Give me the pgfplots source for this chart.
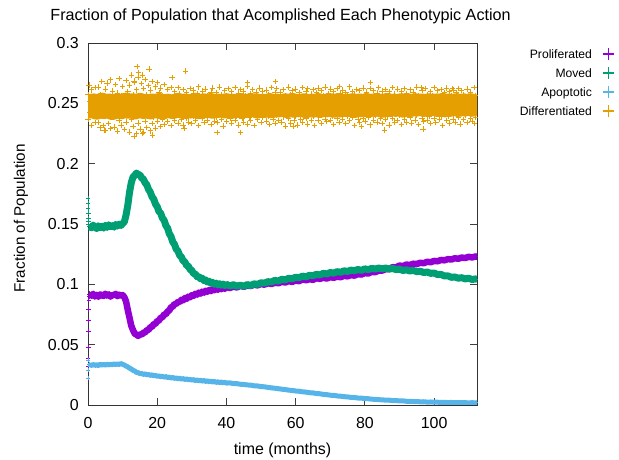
\documentclass[border=0pt]{standalone}
\usepackage{pgfplots}
\usepackage{pgfplotstable}
\usepackage{fontspec}
\setmainfont{Liberation Sans}
\pgfplotsset{compat=1.18}

\definecolor{prolif}{HTML}{9400D3}
\definecolor{moved}{HTML}{009E73}
\definecolor{apopt}{HTML}{56B4E9}
\definecolor{diffr}{HTML}{E69F00}

% key symbol: a large plus built from two rules in the series colour
\newcommand\keyplus[1]{\hspace{10.6bp}{\color{#1}%
  \makebox[0pt][l]{\rule[3.7bp]{11.4bp}{1.4bp}}\hspace{5bp}\rule[-1.3bp]{1.4bp}{11.4bp}\hspace{5bp}}}

% fractions of the population per phenotypic action (t in months)
\pgfplotstableread{
t p g a
0.5 .0918 .1480 .0335
1 .0906 .1468 .0328
1.5 .0921 .1491 .0336
2 .0899 .1474 .0329
2.5 .0913 .1462 .0333
3 .0897 .1485 .0327
3.5 .0916 .1470 .0338
4 .0910 .1481 .0331
4.5 .0903 .1466 .0336
5 .0922 .1489 .0330
5.5 .0907 .1472 .0339
6 .0917 .1493 .0332
6.5 .0898 .1479 .0337
7 .0913 .1486 .0334
7.5 .0909 .1474 .0341
8 .0921 .1496 .0335
8.5 .0902 .1483 .0340
9 .0914 .1499 .0336
9.5 .0906 .1488 .0343
10 .0911 .1503 .0337
10.5 .0893 .1518 .0331
11 .0858 .1575 .0323
11.5 .0787 .1655 .0316
12 .0723 .1763 .0305
12.5 .0657 .1841 .0299
13 .0621 .1889 .0287
13.5 .0591 .1903 .0282
14 .0584 .1922 .0270
14.5 .0572 .1910 .0268
15 .0586 .1907 .0260
15.5 .0583 .1882 .0261
16 .0599 .1872 .0254
16.5 .0602 .1841 .0258
17 .0620 .1825 .0250
17.5 .0623 .1786 .0253
18 .0645 .1764 .0246
18.5 .0648 .1725 .0250
19 .0671 .1706 .0242
19.5 .0673 .1665 .0245
20 .0695 .1644 .0238
20.5 .0700 .1604 .0241
21 .0723 .1589 .0235
21.5 .0727 .1549 .0238
22 .0751 .1531 .0231
22.5 .0752 .1487 .0235
23 .0776 .1466 .0228
23.5 .0783 .1419 .0231
24 .0811 .1396 .0224
24.5 .0815 .1351 .0228
25 .0838 .1331 .0221
25.5 .0837 .1291 .0224
26 .0856 .1276 .0218
26.5 .0853 .1239 .0222
27 .0872 .1226 .0215
27.5 .0868 .1194 .0218
28 .0886 .1186 .0212
28.5 .0881 .1156 .0216
29 .0898 .1151 .0209
29.5 .0893 .1122 .0212
30 .0910 .1116 .0207
30.5 .0905 .1089 .0210
31 .0921 .1086 .0203
31.5 .0915 .1064 .0207
32 .0931 .1066 .0201
32.5 .0923 .1046 .0205
33 .0939 .1051 .0198
33.5 .0931 .1031 .0202
34 .0947 .1036 .0196
34.5 .0939 .1019 .0200
35 .0953 .1026 .0193
35.5 .0944 .1009 .0197
36 .0959 .1016 .0191
36.5 .0951 .1001 .0195
37 .0965 .1010 .0188
37.5 .0955 .0995 .0192
38 .0969 .1005 .0186
38.5 .0960 .0993 .0190
39 .0974 .1002 .0184
39.5 .0963 .0990 .0188
40 .0978 .1000 .0182
41 .0970 .0986 .0183
42 .0981 .0997 .0178
43 .0974 .0985 .0177
44 .0987 .0993 .0172
45 .0980 .0984 .0171
46 .0989 .0998 .0166
47 .0986 .0990 .0165
48 .0998 .1004 .0159
49 .0991 .1000 .0158
50 .1003 .1013 .0152
51 .0997 .1010 .0151
52 .1010 .1022 .0146
53 .1002 .1019 .0142
54 .1014 .1033 .0139
55 .1009 .1027 .0135
56 .1021 .1042 .0131
57 .1015 .1037 .0128
58 .1027 .1050 .0123
59 .1020 .1046 .0121
60 .1032 .1059 .0116
61 .1026 .1055 .0114
62 .1042 .1068 .0109
63 .1034 .1062 .0107
64 .1043 .1075 .0102
65 .1037 .1071 .0100
66 .1051 .1083 .0095
67 .1045 .1078 .0093
68 .1055 .1091 .0088
69 .1048 .1086 .0086
70 .1060 .1098 .0081
71 .1054 .1093 .0080
72 .1064 .1105 .0075
73 .1059 .1100 .0073
74 .1071 .1112 .0069
75 .1066 .1107 .0067
76 .1077 .1118 .0063
77 .1072 .1113 .0062
78 .1085 .1123 .0058
79 .1081 .1116 .0057
80 .1093 .1128 .0053
81 .1090 .1122 .0052
82 .1103 .1132 .0048
83 .1101 .1127 .0047
84 .1113 .1135 .0044
85 .1114 .1129 .0043
86 .1125 .1135 .0040
87 .1127 .1126 .0040
88 .1142 .1132 .0037
89 .1141 .1122 .0037
90 .1156 .1126 .0034
91 .1151 .1115 .0034
92 .1164 .1120 .0031
93 .1160 .1111 .0031
94 .1171 .1115 .0029
95 .1168 .1105 .0029
96 .1179 .1109 .0026
97 .1175 .1098 .0027
98 .1187 .1102 .0024
99 .1183 .1091 .0025
100 .1194 .1094 .0023
101 .1191 .1081 .0023
102 .1202 .1082 .0021
103 .1199 .1069 .0022
104 .1209 .1070 .0020
105 .1206 .1058 .0021
106 .1216 .1061 .0019
107 .1212 .1051 .0020
108 .1222 .1055 .0019
109 .1218 .1045 .0019
110 .1228 .1050 .0018
111 .1223 .1040 .0019
112 .1231 .1045 .0018
112.5 .1229 .1041 .0019
}\actions

% differentiated fraction: three samples per half month
\pgfplotstableread{
t o1 o2 o3
0 .2478 .2573 .2364
0.5 .2481 .2518 .2429
1 .2461 .2612 .2318
1.5 .2495 .2547 .2396
2 .2478 .2631 .2341
2.5 .2452 .2509 .2442
3 .2486 .2636 .2343
3.5 .2469 .2571 .2297
4 .2501 .2682 .2402
4.5 .2457 .2548 .2318
5 .2483 .2619 .2276
5.5 .2466 .2667 .2411
6 .2494 .2553 .2335
6.5 .2473 .2695 .2289
7 .2449 .2602 .2387
7.5 .2488 .2541 .2304
8 .2462 .2658 .2423
8.5 .2497 .2584 .2271
9 .2476 .2707 .2356
9.5 .2455 .2566 .2319
10 .2491 .2639 .2398
10.5 .2468 .2544 .2282
11 .2502 .2688 .2344
11.5 .2459 .2597 .2415
12 .2484 .2651 .2263
12.5 .2471 .2735 .2371
13 .2496 .2575 .2309
13.5 .2453 .2672 .2392
14 .2487 .2612 .2248
14.5 .2465 .2716 .2336
15 .2499 .2557 .2287
15.5 .2474 .2663 .2408
16 .2458 .2624 .2261
16.5 .2492 .2698 .2347
17 .2467 .2569 .2298
17.5 .2481 .2646 .2419
18 .2454 .2611 .2272
18.5 .2495 .2683 .2331
19 .2472 .2552 .2384
19.5 .2486 .2637 .2296
20 .2461 .2674 .2352
20.5 .2498 .2589 .2415
21 .2475 .2628 .2307
21.5 .2452 .2561 .2368
22 .2489 .2655 .2326
22.5 .2468 .2523 .2401
23 .2493 .2617 .2349
23.5 .2463 .2556 .2434
24 .2484 .2629 .2317
24.5 .2457 .2512 .2389
25 .2491 .2598 .2356
25.5 .2472 .2543 .2425
26 .2499 .2632 .2338
26.5 .2466 .2577 .2412
27 .2483 .2506 .2367
27.5 .2458 .2614 .2321
28 .2495 .2559 .2443
28.5 .2474 .2591 .2379
29 .2487 .2528 .2346
29.5 .2461 .2624 .2417
30 .2492 .2563 .2332
30.5 .2469 .2609 .2395
31 .2501 .2519 .2358
31.5 .2477 .2582 .2436
32 .2455 .2637 .2314
32.5 .2488 .2545 .2402
33 .2471 .2601 .2375
33.5 .2496 .2531 .2341
34 .2464 .2618 .2428
34.5 .2485 .2567 .2363
35 .2476 .2508 .2397
35.5 .2498 .2593 .2327
36 .2459 .2626 .2419
36.5 .2482 .2552 .2354
37 .2473 .2587 .2384
37.5 .2494 .2515 .2342
38 .2467 .2634 .2437
38.5 .2489 .2574 .2369
39 .2478 .2539 .2312
39.5 .2462 .2607 .2405
40 .2497 .2561 .2351
40.5 .2475 .2622 .2426
41 .2486 .2503 .2377
41.5 .2459 .2596 .2336
42 .2493 .2548 .2414
42.5 .2471 .2629 .2361
43 .2488 .2527 .2393
43.5 .2465 .2584 .2319
44 .2499 .2613 .2439
44.5 .2479 .2536 .2372
45 .2463 .2602 .2345
45.5 .2491 .2565 .2408
46 .2476 .2638 .2329
46.5 .2495 .2511 .2386
47 .2468 .2579 .2357
47.5 .2484 .2616 .2431
48 .2472 .2542 .2316
48.5 .2497 .2595 .2398
49 .2461 .2524 .2365
49.5 .2487 .2627 .2422
50 .2478 .2558 .2339
50.5 .2493 .2603 .2381
51 .2466 .2532 .2444
51.5 .2489 .2611 .2353
52 .2474 .2569 .2392
52.5 .2498 .2516 .2326
53 .2463 .2633 .2417
53.5 .2485 .2549 .2369
54 .2477 .2587 .2334
54.5 .2494 .2621 .2403
55 .2469 .2507 .2358
55.5 .2482 .2594 .2429
56 .2491 .2538 .2345
56.5 .2473 .2615 .2388
57 .2496 .2563 .2313
57.5 .2465 .2526 .2411
58 .2487 .2636 .2374
58.5 .2479 .2572 .2337
59 .2499 .2604 .2435
59.5 .2468 .2541 .2362
60 .2483 .2618 .2396
60.5 .2492 .2513 .2321
61 .2471 .2589 .2418
61.5 .2488 .2555 .2367
62 .2476 .2631 .2341
62.5 .2497 .2534 .2404
63 .2464 .2598 .2379
63.5 .2486 .2622 .2328
64 .2479 .2509 .2441
64.5 .2494 .2576 .2356
65 .2468 .2613 .2389
65.5 .2489 .2545 .2317
66 .2475 .2592 .2424
66.5 .2498 .2628 .2363
67 .2466 .2521 .2398
67.5 .2485 .2607 .2335
68 .2477 .2566 .2413
68.5 .2493 .2634 .2371
69 .2471 .2537 .2349
69.5 .2488 .2581 .2432
70 .2479 .2619 .2359
70.5 .2496 .2517 .2391
71 .2467 .2596 .2324
71.5 .2484 .2553 .2416
72 .2475 .2625 .2376
72.5 .2499 .2546 .2343
73 .2469 .2583 .2409
73.5 .2487 .2611 .2365
74 .2481 .2504 .2438
74.5 .2494 .2591 .2331
75 .2472 .2562 .2394
75.5 .2489 .2637 .2357
76 .2478 .2529 .2421
76.5 .2497 .2599 .2382
77 .2466 .2574 .2315
77.5 .2486 .2616 .2406
78 .2483 .2543 .2368
78.5 .2495 .2605 .2339
79 .2471 .2518 .2427
79.5 .2488 .2627 .2373
80 .2477 .2568 .2348
80.5 .2498 .2594 .2412
81 .2468 .2535 .2385
81.5 .2485 .2621 .2322
82 .2479 .2557 .2437
82.5 .2496 .2608 .2361
83 .2473 .2514 .2399
83.5 .2489 .2585 .2344
84 .2481 .2632 .2418
84.5 .2494 .2549 .2377
85 .2467 .2601 .2335
85.5 .2487 .2527 .2426
86 .2478 .2614 .2366
86.5 .2499 .2563 .2393
87 .2471 .2596 .2319
87.5 .2486 .2538 .2414
88 .2482 .2629 .2372
88.5 .2495 .2576 .2346
89 .2474 .2511 .2431
89.5 .2489 .2618 .2358
90 .2479 .2552 .2397
90.5 .2497 .2603 .2327
91 .2469 .2541 .2422
91.5 .2486 .2624 .2369
92 .2483 .2579 .2341
92.5 .2496 .2506 .2408
93 .2472 .2612 .2381
93.5 .2488 .2558 .2336
94 .2481 .2593 .2439
94.5 .2498 .2532 .2363
95 .2476 .2636 .2401
95.5 .2491 .2567 .2325
96 .2484 .2519 .2416
96.5 .2495 .2606 .2374
97 .2473 .2548 .2349
97.5 .2489 .2622 .2427
98 .2482 .2573 .2362
98.5 .2497 .2509 .2395
99 .2477 .2597 .2331
99.5 .2492 .2561 .2419
100 .2485 .2633 .2376
100.5 .2496 .2539 .2343
101 .2474 .2604 .2411
101.5 .2488 .2525 .2367
102 .2483 .2616 .2392
102.5 .2499 .2551 .2318
103 .2471 .2588 .2434
103.5 .2487 .2628 .2359
104 .2486 .2517 .2389
104.5 .2495 .2599 .2338
105 .2476 .2564 .2425
105.5 .2491 .2611 .2371
106 .2484 .2536 .2346
106.5 .2498 .2592 .2409
107 .2473 .2625 .2383
107.5 .2489 .2544 .2328
108 .2485 .2607 .2418
108.5 .2496 .2571 .2364
109 .2477 .2513 .2397
109.5 .2492 .2619 .2341
110 .2486 .2558 .2429
110.5 .2497 .2594 .2373
111 .2475 .2532 .2352
111.5 .2489 .2631 .2414
112 .2487 .2566 .2386
112.5 .2488 .2602 .2344
}\differentiated

\pgfplotsset{
  plusmark/.style={only marks, mark=+, mark size=#1, mark options={line width=0.7bp}},
  band/.style={forget plot, no marks, line width=#1, line join=round, line cap=butt},
}

\begin{document}
\begin{tikzpicture}
\path (0bp,0bp) rectangle (619bp,460bp);
\begin{axis}[
  at={(88bp,55bp)}, anchor=south west,
  scale only axis, width=389bp, height=362bp,
  xmin=0, xmax=112.4, ymin=0, ymax=0.3,
  xtick={0,20,40,60,80,100},
  ytick={0,0.05,0.1,0.15,0.2,0.25,0.3},
  minor tick num=0,
  tick align=inside, major tick length=7bp,
  tick style={black!75, line width=0.8bp},
  axis line style={black!80, line width=0.9bp},
  clip=true, clip mode=individual, clip marker paths=false,
  /pgf/number format/.cd, fixed, precision=2, assume math mode=true, /pgfplots/.cd,
  tick label style={font=\fontsize{16}{19}\selectfont},
  yticklabel style={inner sep=0pt, anchor=east, xshift=-9bp},
  xticklabel style={inner sep=0pt, anchor=north, yshift=-11.7bp},
  title={Fraction of Population that Acomplished Each Phenotypic Action},
  title style={font=\fontsize{16.2}{19}\selectfont, at={(axis description cs:0.495,1.047)}, anchor=base, inner sep=0pt},
  xlabel={time (months)},
  xlabel style={font=\fontsize{16}{19}\selectfont, at={(axis description cs:0.5,-0.1354)}, anchor=base, inner sep=0pt},
  ylabel={Fraction of Population},
  ylabel style={font=\fontsize{15.3}{18}\selectfont, at={(axis description cs:-0.162,0.5157)}, anchor=base, inner sep=0pt},
  legend cell align=right,
  legend style={at={(1.3522,0.9823)}, anchor=north east, draw=none, fill=none,
    inner sep=0pt, outer sep=0pt, font=\fontsize{12.2}{14}\selectfont, row sep=7bp,
    nodes={inner sep=0pt, text height=9bp, text depth=3bp},
    /tikz/every even column/.append style={column sep=0pt}},
]
% Proliferated
\addplot[prolif, band=6.5bp] table[x=t, y=p] {\actions};
\addplot[prolif, plusmark=2.8bp, forget plot] table[x=t, y=p] {\actions};
\addplot[prolif, plusmark=2.2bp, forget plot] coordinates {
  (0,0.022) (0.03,0.032) (0.06,0.039) (0.09,0.048) (0.12,0.061)
  (0.15,0.070) (0.18,0.079) (0.21,0.087) (0.25,0.090)};
% Moved
\addplot[moved, band=7bp] table[x=t, y=g] {\actions};
\addplot[moved, plusmark=2.8bp, forget plot] table[x=t, y=g] {\actions};
\addplot[moved, plusmark=2.2bp, forget plot] coordinates {
  (0,0.1713) (0.03,0.1671) (0.06,0.1630) (0.09,0.1589) (0.12,0.1547)
  (0.15,0.1519) (0.2,0.1500)};
% Apoptotic
\addplot[apopt, band=5bp] table[x=t, y=a] {\actions};
\addplot[apopt, plusmark=2.2bp, forget plot] table[x=t, y=a] {\actions};
\addplot[apopt, plusmark=2bp, forget plot] coordinates {
  (0,0.0221) (0.04,0.0290) (0.08,0.0373) (0.15,0.0335)};
% Differentiated
\addplot[diffr, band=21bp] table[x=t, y=o1] {\differentiated};
\addplot[diffr, plusmark=2.7bp, forget plot] table[x=t, y=o2] {\differentiated};
\addplot[diffr, plusmark=2.7bp, forget plot] table[x=t, y=o3] {\differentiated};
\addplot[diffr, plusmark=2.7bp, forget plot] coordinates {
  (14.2,0.2804) (17.6,0.2785) (14.6,0.2757) (28.2,0.2768) (15.7,0.2735)
  (24.3,0.2712) (13.3,0.2685) (46,0.2674) (54.2,0.2680) (0.3,0.2652)
  (81.6,0.2674) (72.7,0.2638) (96.3,0.2633) (105.4,0.2625)
  (37.3,0.2260) (44.1,0.2260) (4.6,0.2279) (13.3,0.2224) (18.6,0.2238)
  (27.7,0.2293) (15.7,0.2252) (59.2,0.2312) (85.7,0.2279) (96.8,0.2287)
  (79,0.2306) (111.7,0.2334)};
% key
\addlegendimage{empty legend}
\addlegendentry{Proliferated\keyplus{prolif}}
\addlegendimage{empty legend}
\addlegendentry{Moved\keyplus{moved}}
\addlegendimage{empty legend}
\addlegendentry{Apoptotic\keyplus{apopt}}
\addlegendimage{empty legend}
\addlegendentry{Differentiated\keyplus{diffr}}
\end{axis}
\end{tikzpicture}
\end{document}
